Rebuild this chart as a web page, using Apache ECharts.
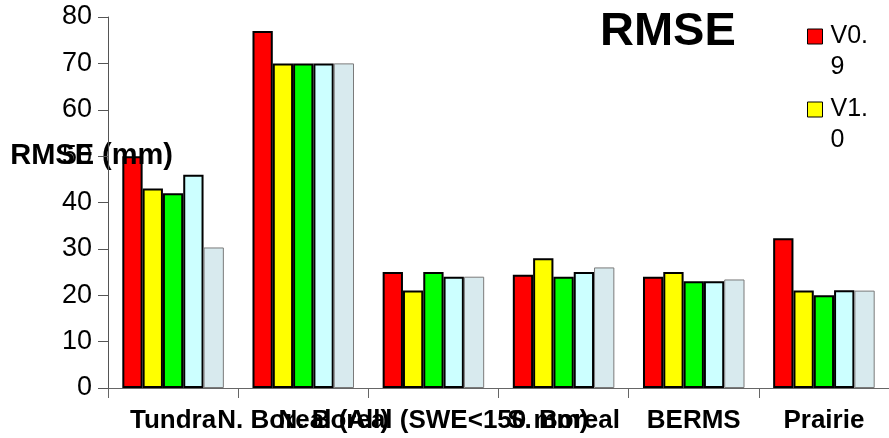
<!DOCTYPE html>
<html>
<head>
<meta charset="utf-8">
<script src="https://cdn.jsdelivr.net/npm/echarts@6/dist/echarts.min.js"></script>
<style>
html,body{margin:0;padding:0;background:#fff;}
#chart{width:889px;height:438px;}
</style>
</head>
<body>
<div id="chart"></div>
<script>
const categories = ['Tundra', 'N. Boreal (All)', 'N. Boreal (SWE<150 mm)', 'S. Boreal', 'BERMS', 'Prairie'];
const seriesNames = ['V0.9', 'V1.0', 'Series 3', 'Series 4', 'Series 5'];
const v09 = [50, 77, 25, 24.4, 24, 32.3];
const v10 = [43, 70, 21, 28, 25, 21];
const s3 = [42, 70, 25, 24, 23, 20];
const s4 = [46, 70, 24, 25, 23, 21.1];
const s5 = [30.3, 70, 24, 26, 23.4, 21];
const yTicks = [0, 10, 20, 30, 40, 50, 60, 70, 80];

const colors = ['#ff0000', '#ffff00', '#00ff00', '#ccffff', '#d8eaee'];
const values = [v09, v10, s3, s4, s5];
const FONT = 'Liberation Sans, Arial, sans-serif';

const chart = echarts.init(document.getElementById('chart'), null, {renderer: 'canvas'});
const series = values.map((d, i) => ({
  name: seriesNames[i],
  type: 'bar',
  data: d,
  barGap: '0%',
  barCategoryGap: '22%',
  itemStyle: {
    color: colors[i],
    borderColor: i === 4 ? '#7a7a7a' : '#000',
    borderWidth: i === 4 ? 1 : 2
  }
}));

chart.setOption({
  animation: false,
  backgroundColor: '#fff',
  title: {
    text: 'RMSE',
    left: 600,
    top: 9,
    padding: 0,
    textStyle: {fontFamily: FONT, fontSize: 47, fontWeight: 'bold', color: '#000'}
  },
  legend: {
    data: ['V0.9', 'V1.0'],
    orient: 'vertical',
    left: 807,
    top: -10,
    padding: 0,
    itemGap: -20,
    itemWidth: 15,
    itemHeight: 15,
    icon: 'rect',
    formatter: function (name) { return '\n' + name; },
    itemStyle: {borderColor: '#000', borderWidth: 1},
    textStyle: {
      fontFamily: FONT, fontSize: 25, color: '#000',
      lineHeight: 31, width: 44, overflow: 'breakAll',
      padding: [0, 0, 0, 3]
    }
  },
  grid: {left: 108, right: 0, top: 17, bottom: 50, containLabel: false, outerBoundsMode: 'none'},
  xAxis: {
    type: 'category',
    data: categories,
    axisLine: {show: true, lineStyle: {color: '#666', width: 1}},
    axisTick: {show: true, length: 10, lineStyle: {color: '#666'}},
    axisLabel: {interval: 0, hideOverlap: false, margin: 20, fontFamily: FONT, fontSize: 26, fontWeight: 'bold', color: '#000'},
    splitLine: {show: false}
  },
  yAxis: {
    type: 'value',
    z: 5,
    min: yTicks[0],
    max: yTicks[yTicks.length - 1],
    interval: 10,
    name: 'RMSE (mm)',
    nameLocation: 'middle',
    nameRotate: 0,
    nameGap: -65,
    nameMoveOverlap: false,
    nameTextStyle: {fontFamily: FONT, fontSize: 29, fontWeight: 'bold', color: '#000', align: 'right', verticalAlign: 'bottom', lineHeight: 93},
    axisLine: {show: true, lineStyle: {color: '#555', width: 1}},
    axisTick: {show: true, length: 10, lineStyle: {color: '#555'}},
    axisLabel: {margin: 16, fontFamily: FONT, fontSize: 27, color: '#000'},
    splitLine: {show: false}
  },
  series: series
});
</script>
</body>
</html>
